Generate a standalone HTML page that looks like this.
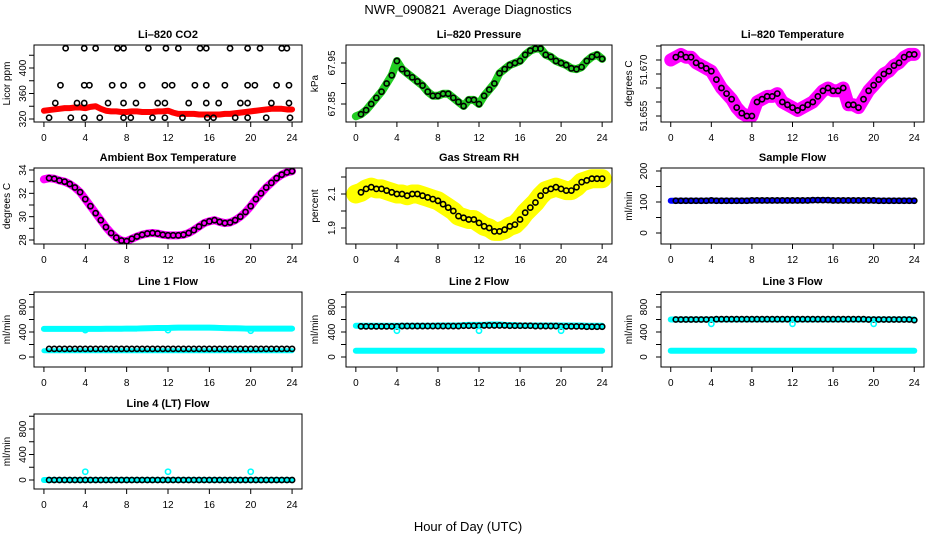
<!DOCTYPE html>
<html><head><meta charset="utf-8">
<style>
html,body{margin:0;padding:0;background:#fff;}
svg{display:block;}
text{font-family:"Liberation Sans",sans-serif;fill:#000;}
</style></head>
<body>
<svg id="chart" width="936" height="540" viewBox="0 0 936 540">
<text x="468" y="14" font-size="13" text-anchor="middle">NWR_090821&#160; Average Diagnostics</text>
<text x="468" y="531" font-size="13" text-anchor="middle">Hour of Day (UTC)</text>
</svg>
<script>
const hours=[0,0.5,1,1.5,2,2.5,3,3.5,4,4.5,5,5.5,6,6.5,7,7.5,8,8.5,9,9.5,10,10.5,11,11.5,12,12.5,13,13.5,14,14.5,15,15.5,16,16.5,17,17.5,18,18.5,19,19.5,20,20.5,21,21.5,22,22.5,23,23.5,24];
const xTicks=[0,4,8,12,16,20,24];
const co2Band=[333,334,335,336,337,337,338,338,337,339,340,336,333,332,332,331,331,332,332,331,331,331,332,332,333,330,328,328,328,328,327,327,327,327,327,328,328,329,330,331,332,333,334,335,336,336,336,335,335,335,335,335,335];
const co2OutHours=[2.1,3.9,5.0,7.1,7.7,10.1,11.8,13.0,15.1,15.7,18.0,19.7,20.9,23.0,23.5,1.6,3.9,4.4,6.6,7.7,9.5,11.7,12.4,14.6,15.7,17.5,19.7,20.4,22.5,23.7,1.1,3.2,3.9,6.2,7.7,8.9,11.0,11.7,14.0,15.7,16.9,19.0,19.7,22.0,23.7,0.5,2.6,3.9,5.4,7.7,8.4,10.5,11.7,13.4,15.8,16.4,18.5,19.7,21.5,23.8];
const co2OutValues=[431,431,431,431,431,431,431,431,431,431,431,431,431,431,431,373,373,373,373,373,373,373,373,373,373,373,373,373,373,373,345,345,345,345,345,345,345,345,345,345,345,345,345,345,345,322,322,322,322,322,322,322,322,322,322,322,322,322,322,322];
const pressure=[67.82,67.825,67.835,67.85,67.865,67.88,67.90,67.92,67.955,67.935,67.925,67.915,67.905,67.895,67.88,67.87,67.87,67.875,67.875,67.865,67.855,67.845,67.86,67.86,67.85,67.87,67.885,67.90,67.925,67.935,67.945,67.95,67.955,67.97,67.98,67.985,67.985,67.97,67.965,67.955,67.95,67.945,67.937,67.935,67.94,67.955,67.965,67.97,67.96];
const licorTemp=[51.675,51.676,51.677,51.676,51.676,51.674,51.673,51.672,51.671,51.668,51.665,51.663,51.661,51.658,51.656,51.655,51.655,51.660,51.661,51.662,51.662,51.663,51.660,51.659,51.658,51.657,51.658,51.659,51.660,51.662,51.664,51.665,51.664,51.664,51.665,51.659,51.659,51.658,51.661,51.664,51.666,51.668,51.670,51.671,51.673,51.674,51.676,51.677,51.677];
const ambient=[33.2,33.3,33.25,33.1,33.0,32.8,32.5,32.1,31.5,30.9,30.3,29.7,29.1,28.6,28.2,27.95,27.9,28.1,28.3,28.45,28.55,28.6,28.55,28.45,28.4,28.4,28.4,28.45,28.6,28.85,29.15,29.45,29.6,29.7,29.55,29.45,29.5,29.7,30.0,30.4,30.9,31.5,32.0,32.5,32.9,33.3,33.6,33.8,33.9];
const gasRH=[2.10,2.11,2.13,2.14,2.13,2.13,2.12,2.11,2.10,2.10,2.09,2.10,2.10,2.09,2.08,2.07,2.06,2.04,2.02,2.00,1.97,1.96,1.95,1.95,1.93,1.91,1.90,1.88,1.88,1.89,1.91,1.92,1.95,1.99,2.02,2.05,2.09,2.12,2.13,2.14,2.13,2.12,2.12,2.14,2.17,2.18,2.19,2.19,2.19];
const sampleFlow=[104,104,104,104,104,104,104,104,105,104,104,104,104,104,104,104,105,105,105,105,105,105,105,105,105,105,105,105,106,106,106,106,105,105,105,105,105,105,105,105,105,104,104,104,104,104,104,104,104];
const line1Cyan=[450,450,450,450,450,450,450,450,450,450,450,450,452,452,452,452,455,455,455,458,460,462,465,465,465,468,470,470,470,470,470,470,470,468,465,462,460,460,458,455,455,455,455,455,455,455,455,455,455];
const line1Low=[100,100,100,100,100,100,100,100,100,100,100,100,100,100,100,100,100,100,100,100,100,100,100,100,100,100,100,100,100,100,100,100,100,100,100,100,100,100,100,100,100,100,100,100,100,100,100,100,100];
const line1Black=[130,130,130,130,130,130,130,130,130,130,130,130,130,130,130,130,130,130,130,130,130,130,130,130,130,130,130,130,130,130,130,130,130,130,130,130,130,130,130,130,130,130,130,130,130,130,130,130,130];
const line2Cyan=[500,500,500,500,500,500,500,500,500,500,500,500,500,500,500,500,505,505,505,505,505,510,515,515,515,515,520,520,520,515,510,510,505,505,505,505,505,505,505,505,505,505,505,505,505,500,500,500,500];
const line2Low=[100,100,100,100,100,100,100,100,100,100,100,100,100,100,100,100,100,100,100,100,100,100,100,100,100,100,100,100,100,100,100,100,100,100,100,100,100,100,100,100,100,100,100,100,100,100,100,100,100];
const line2Black=[490,490,490,490,490,490,490,490,490,495,495,495,495,495,495,495,495,495,495,495,495,500,500,500,500,505,505,505,505,505,500,500,500,500,500,495,495,495,495,495,490,490,490,490,490,485,485,485,485];
const line3Cyan=[600,600,600,600,600,600,600,600,600,600,600,600,600,600,600,600,600,600,600,600,600,600,600,600,600,600,600,600,600,600,600,600,600,600,600,600,600,600,600,600,600,600,600,600,600,600,600,600,600];
const line3Low=[100,100,100,100,100,100,100,100,100,100,100,100,100,100,100,100,100,100,100,100,100,100,100,100,100,100,100,100,100,100,100,100,100,100,100,100,100,100,100,100,100,100,100,100,100,100,100,100,100];
const line3Black=[600,600,600,600,600,600,600,600,600,605,605,605,605,605,605,605,605,605,605,605,605,605,605,605,605,605,605,605,605,605,605,605,605,605,605,605,605,605,605,600,600,600,600,600,600,600,600,600,590];
const line4Cyan=[0,0,0,0,0,0,0,0,0,0,0,0,0,0,0,0,0,0,0,0,0,0,0,0,0,0,0,0,0,0,0,0,0,0,0,0,0,0,0,0,0,0,0,0,0,0,0,0,0];
const line4Black=[0,0,0,0,0,0,0,0,0,0,0,0,0,0,0,0,0,0,0,0,0,0,0,0,0,0,0,0,0,0,0,0,0,0,0,0,0,0,0,0,0,0,0,0,0,0,0,0,0];
const spikeHours=[4,12,20];
const line1Spikes=[430,430,420];
const line2Spikes=[420,420,420];
const line3Spikes=[530,530,530];
const line4Spikes=[130,130,130];

const NS='http://www.w3.org/2000/svg';
const svg=document.getElementById('chart');
function mk(tag,attrs,parent){const e=document.createElementNS(NS,tag);for(const k in attrs)e.setAttribute(k,attrs[k]);(parent||svg).appendChild(e);return e;}
const colL=[34,346,661],colR=[302,612,924];
const tickOff=[12,15,18],titleOff=[24,28,29];
const rowT=[45,168,292,414],rowB=[122,244,367,489];

function panel(o){
  const L=colL[o.col],R=colR[o.col],T=rowT[o.row],B=rowB[o.row];
  const g=mk('g',{});
  
  
  const xs=v=>L+(v+0.96)/25.92*(R-L);
  const ys=v=>o.p0+(v-o.v0)*(o.p1-o.p0)/(o.v1-o.v0);
  const t=mk('text',{x:(L+R)/2,y:T-7,'font-size':11,'font-weight':'bold','text-anchor':'middle'},g);
  t.textContent=o.title;
  
  
  const yt=mk('text',{transform:`translate(${L-titleOff[o.col]},${(T+B)/2}) rotate(-90)`,'font-size':10,'text-anchor':'middle'},g);
  yt.textContent=o.ylab;
  
  
  const clip='c'+o.name;
  const cp=mk('clipPath',{id:clip},g);mk('rect',{x:L,y:T,width:R-L,height:B-T},cp);
  const d=mk('g',{'clip-path':`url(#${clip})`},g);
  (o.bands||[]).forEach(b=>{
    const pts=hours.map((h,i)=>xs(h)+','+ys(b.vals[i])).join(' ');
    const pl=mk('polyline',{points:pts,fill:'none',stroke:b.color,'stroke-width':b.w,'stroke-linejoin':'round','stroke-linecap':'round'},d);
    
    
  });
  (o.circles||[]).forEach(c=>{
    c.vals.forEach((v,i)=>{
      const h=c.hrs?c.hrs[i]:hours[i];
      if(!c.hrs && h===0) return;
      const ci=mk('circle',{cx:xs(h),cy:ys(v),r:2.6,fill:'none',stroke:c.color,'stroke-width':1.6},d);
      
      
    });
  });
  mk('rect',{x:L,y:T,width:R-L,height:B-T,fill:'none',stroke:'#000','stroke-width':1},g);
  xTicks.forEach(v=>{
    mk('line',{x1:xs(v),x2:xs(v),y1:B,y2:B+5,stroke:'#000'},g);
    const tx=mk('text',{x:xs(v),y:B+19,'font-size':10,'text-anchor':'middle'},g);
    tx.textContent=v;
    
    
  });
  o.yticks.forEach(v=>{
    mk('line',{x1:L-5,x2:L,y1:ys(v),y2:ys(v),stroke:'#000'},g);
  });
  o.ylabels.forEach((v,i)=>{
    const ty=mk('text',{transform:`translate(${L-tickOff[o.col]+4},${ys(v)}) rotate(-90)`,'font-size':10,'text-anchor':'middle'},g);
    ty.textContent=o.ylabelText?o.ylabelText[i]:v;
    
    
  });
}

panel({name:'co2-panel',title:'Li\u2013820 CO2',ylab:'Licor ppm',col:0,row:0,v0:320,p0:119,v1:400,p1:68,
  yticks:[320,340,360,380,400,420],ylabels:[320,360,400],
  bands:[{vals:co2Band,color:'#ff0000',w:6}],
  circles:[{vals:co2OutValues,hrs:co2OutHours,color:'#000'}]});
panel({name:'pressure-panel',title:'Li\u2013820 Pressure',ylab:'kPa',col:1,row:0,v0:67.85,p0:104,v1:67.95,p1:63,
  yticks:[67.85,67.9,67.95],ylabels:[67.85,67.95],ylabelText:['67.85','67.95'],
  bands:[{vals:pressure,color:'#22cc22',w:8}],circles:[{vals:pressure,color:'#000'}]});
panel({name:'temperature-panel',title:'Li\u2013820 Temperature',ylab:'degrees C',col:2,row:0,v0:51.655,p0:116,v1:51.670,p1:74,
  yticks:[51.655,51.66,51.665,51.67,51.675,51.68],ylabels:[51.655,51.6715],ylabelText:['51.655','51.670'],
  bands:[{vals:licorTemp,color:'#ff00ff',w:13}],circles:[{vals:licorTemp,color:'#000'}]});
panel({name:'ambient-panel',title:'Ambient Box Temperature',ylab:'degrees C',col:0,row:1,v0:28,p0:240,v1:34,p1:170,
  yticks:[28,29,30,31,32,33,34],ylabels:[28,30,32,34],
  bands:[{vals:ambient,color:'#ff00ff',w:8}],circles:[{vals:ambient,color:'#000'}]});
panel({name:'gas-rh-panel',title:'Gas Stream RH',ylab:'percent',col:1,row:1,v0:1.9,p0:228,v1:2.1,p1:194,
  yticks:[1.9,2.0,2.1,2.2],ylabels:[1.9,2.1],ylabelText:['1.9','2.1'],
  bands:[{vals:gasRH,color:'#ffff00',w:19}],circles:[{vals:gasRH,color:'#000'}]});
panel({name:'sample-flow-panel',title:'Sample Flow',ylab:'ml/min',col:2,row:1,v0:0,p0:233,v1:200,p1:171,
  yticks:[0,50,100,150,200],ylabels:[0,100,200],
  bands:[{vals:sampleFlow,color:'#0000ff',w:6}],circles:[{vals:sampleFlow,color:'#000'}]});
panel({name:'line1-flow-panel',title:'Line 1 Flow',ylab:'ml/min',col:0,row:2,v0:0,p0:357,v1:800,p1:307,
  yticks:[0,200,400,600,800,1000],ylabels:[0,400,800],
  bands:[{vals:line1Cyan,color:'#00ffff',w:6},{vals:line1Low,color:'#00ffff',w:5}],
  circles:[{vals:line1Black,color:'#000'},{vals:line1Spikes,hrs:spikeHours,color:'#00ffff'}]});
panel({name:'line2-flow-panel',title:'Line 2 Flow',ylab:'ml/min',col:1,row:2,v0:0,p0:357,v1:800,p1:307,
  yticks:[0,200,400,600,800,1000],ylabels:[0,400,800],
  bands:[{vals:line2Cyan,color:'#00ffff',w:6},{vals:line2Low,color:'#00ffff',w:6}],
  circles:[{vals:line2Black,color:'#000'},{vals:line2Spikes,hrs:spikeHours,color:'#00ffff'}]});
panel({name:'line3-flow-panel',title:'Line 3 Flow',ylab:'ml/min',col:2,row:2,v0:0,p0:357,v1:800,p1:307,
  yticks:[0,200,400,600,800,1000],ylabels:[0,400,800],
  bands:[{vals:line3Cyan,color:'#00ffff',w:6},{vals:line3Low,color:'#00ffff',w:6}],
  circles:[{vals:line3Black,color:'#000'},{vals:line3Spikes,hrs:spikeHours,color:'#00ffff'}]});
panel({name:'line4-flow-panel',title:'Line 4 (LT) Flow',ylab:'ml/min',col:0,row:3,v0:0,p0:480,v1:800,p1:429,
  yticks:[0,200,400,600,800,1000],ylabels:[0,400,800],
  bands:[{vals:line4Cyan,color:'#00ffff',w:6}],
  circles:[{vals:line4Black,color:'#000'},{vals:line4Spikes,hrs:spikeHours,color:'#00ffff'}]});
</script>
</body></html>
